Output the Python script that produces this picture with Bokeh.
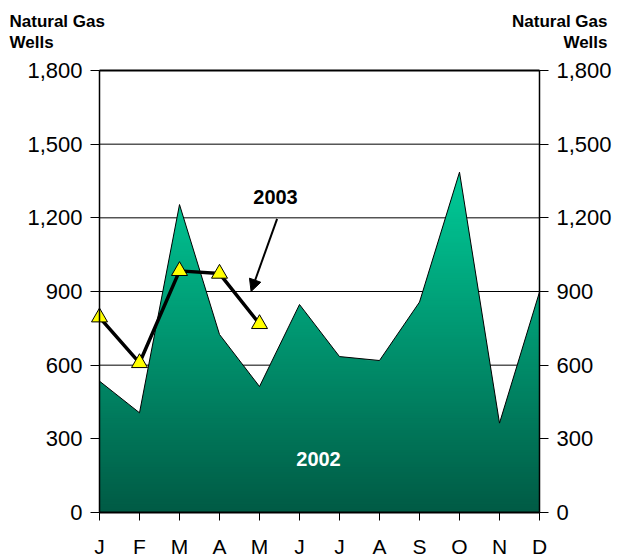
import numpy as np
from bokeh.plotting import figure
from bokeh.models import (Range1d, LinearAxis, FixedTicker, NumeralTickFormatter,
                          Label, Arrow, NormalHead)
from bokeh.embed import file_html
from bokeh.resources import INLINE

months = ["J", "F", "M", "A", "M", "J", "J", "A", "S", "O", "N", "D"]
wells_2002 = [535, 406, 1254, 725, 513, 847, 635, 619, 857, 1386, 364, 898]
wells_2003 = [795, 609, 984, 973, 768]
y_ticks = [0, 300, 600, 900, 1200, 1500, 1800]

FONT = "Liberation Sans"
TOP_RGB = np.array([0, 203, 152])
BOT_RGB = np.array([0, 90, 68])

# frame covers the canvas; data window 0..11 x 0..1800 sits inside it
PX_PER_X = 40.0
PX_PER_Y = 442.0 / 1800.0
x_lo = -99.0 / PX_PER_X
x_hi = (619.0 - 99.0) / PX_PER_X
y_hi = 512.0 / PX_PER_Y
y_lo = -(558.0 - 512.0) / PX_PER_Y

x2 = np.arange(len(wells_2002), dtype=float)
y2 = np.array(wells_2002, dtype=float)
x3 = np.arange(len(wells_2003), dtype=float)
n_last = len(months) - 1

p = figure(frame_width=619, frame_height=558, output_backend="svg",
           toolbar_location=None, x_range=Range1d(x_lo, x_hi), y_range=Range1d(y_lo, y_hi),
           min_border_left=0, min_border_right=0, min_border_top=0,
           min_border_bottom=0, y_axis_location=None, x_axis_location=None)
p.background_fill_color = "white"
p.border_fill_color = "white"
p.outline_line_color = None
p.grid.visible = False

# horizontal grid lines (behind the area)
gx0 = [0] * len(y_ticks)
gx1 = [n_last] * len(y_ticks)
p.segment(x0=gx0, y0=y_ticks, x1=gx1, y1=y_ticks, line_color="black", line_width=1)
p.segment(x0=[0], y0=[y_ticks[-1]], x1=[n_last], y1=[y_ticks[-1]],
          line_color="black", line_width=2)

# gradient-filled area built from horizontal bands
ymax = y2.max()
band = 10.0
levels = np.arange(0, ymax + band, band)
xs = list(x2)
for i in range(len(y2) - 1):
    a, b = y2[i], y2[i + 1]
    lo, hi = min(a, b), max(a, b)
    for L in levels:
        if lo < L < hi:
            xs.append(i + (L - a) / (b - a))
xs = np.unique(np.array(xs))
fs = np.interp(xs, x2, y2)
for k in range(len(levels) - 1):
    ylo, yhi = levels[k], levels[k + 1]
    t = (ylo + band / 2) / ymax
    rgb = BOT_RGB + (TOP_RGB - BOT_RGB) * min(t, 1.0)
    col = "#%02x%02x%02x" % tuple(int(round(c)) for c in rgb)
    top = np.clip(fs, ylo, yhi)
    bottom = np.where(fs > ylo + 1e-9, max(ylo - 6.0, 0), top)
    p.varea(x=xs, y1=bottom, y2=top, fill_color=col)
p.line(x2, y2, line_color="black", line_width=1)

# 2003 series
p.line(x3, wells_2003, line_color="black", line_width=3.5)
p.scatter(x3, wells_2003, marker="triangle", size=16, fill_color="#FFFF00",
          line_color="black", line_width=1)

# bottom axis fixed at y = 0
xax = LinearAxis(ticker=FixedTicker(ticks=list(range(len(months)))), fixed_location=0,
                 bounds=(0, n_last))
xax.major_label_overrides = {i: m for i, m in enumerate(months)}
xax.major_tick_out = 8
xax.major_tick_in = 0
xax.minor_tick_line_color = None
xax.axis_line_color = "black"
xax.axis_line_width = 2
xax.major_label_text_font = FONT
xax.major_label_text_font_size = "21px"
xax.major_label_text_color = "black"
xax.major_label_standoff = 14
p.add_layout(xax, "below")

# left / right value axes fixed at the data edges
for side, loc in (("left", 0), ("right", n_last)):
    ax = LinearAxis(ticker=FixedTicker(ticks=y_ticks), fixed_location=loc,
                    bounds=(0, y_ticks[-1]),
                    formatter=NumeralTickFormatter(format="0,0"))
    ax.major_tick_out = 9
    ax.major_tick_in = 0
    ax.minor_tick_line_color = None
    ax.axis_line_color = "black"
    ax.axis_line_width = 1.5
    ax.major_label_text_font = FONT
    ax.major_label_text_font_size = "22px"
    ax.major_label_text_color = "black"
    ax.major_label_standoff = 8
    p.add_layout(ax, side)

# axis titles
tstyle = dict(text_font=FONT, text_font_size="17px", text_font_style="bold",
              text_color="black", text_baseline="alphabetic")
p.add_layout(Label(x=-2.25, y=2000, text="Natural Gas", text_align="left", **tstyle))
p.add_layout(Label(x=-2.25, y=1914, text="Wells", text_align="left", **tstyle))
p.add_layout(Label(x=12.7, y=2000, text="Natural Gas", text_align="right", **tstyle))
p.add_layout(Label(x=12.7, y=1914, text="Wells", text_align="right", **tstyle))

# annotations
p.add_layout(Label(x=4.4, y=1283, text="2003", text_align="center", text_baseline="middle",
                   text_font=FONT, text_font_size="20px", text_font_style="bold",
                   text_color="black"))
p.add_layout(Label(x=5.475, y=216, text="2002", text_align="center", text_baseline="middle",
                   text_font=FONT, text_font_size="20px", text_font_style="bold",
                   text_color="white"))
p.add_layout(Arrow(x_start=4.44, y_start=1196, x_end=3.79, y_end=900,
                   line_color="black", line_width=2,
                   end=NormalHead(size=12, fill_color="black", line_color="black")))

open("out.html", "w").write(file_html(p, INLINE))
